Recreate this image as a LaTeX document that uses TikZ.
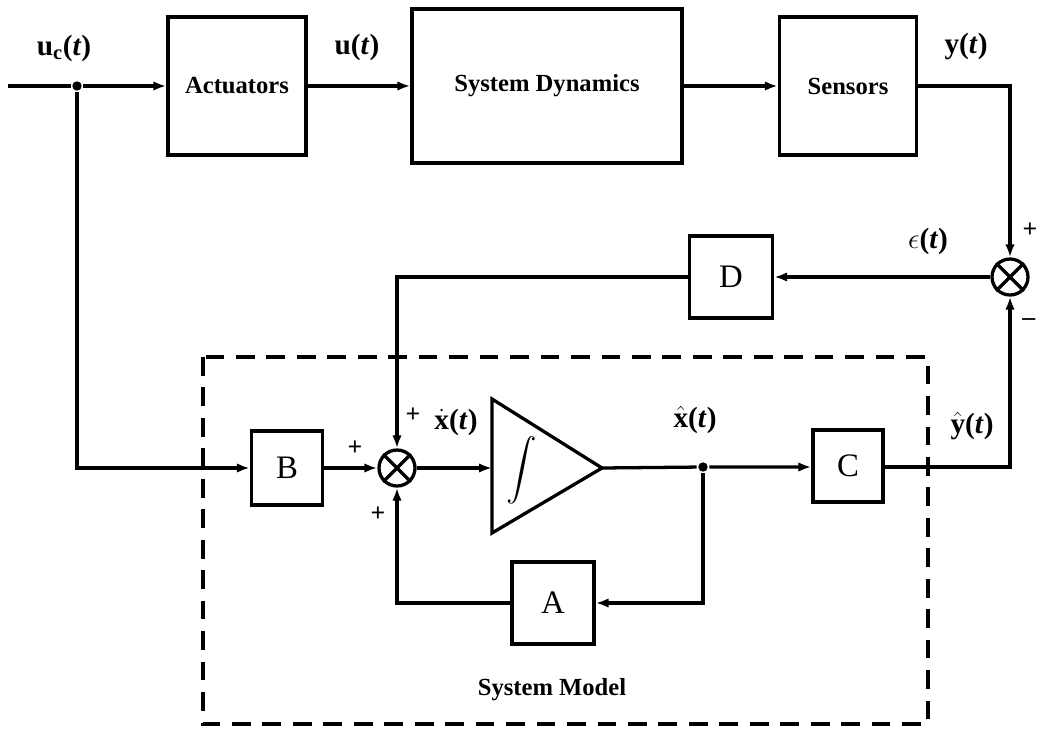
\documentclass[tikz,border=0pt]{standalone}
\usepackage{fontspec}
\usepackage{graphicx}
\setmainfont{Liberation Serif}
\usetikzlibrary{arrows.meta}
\begin{document}
\begin{tikzpicture}[x=0.03cm,y=-0.03cm, line width=2.8pt,
  blk/.style={draw, line width=2.8pt, inner sep=0pt, font=\fontsize{21}{25}\selectfont\bfseries},
  mblk/.style={draw, line width=2.8pt, inner sep=0pt, font=\fontsize{28}{32}\selectfont},
  sumj/.style={draw, circle, line width=2.8pt, minimum size=1.08cm, inner sep=0pt},
  sig/.style={-{Latex[length=11pt,width=8pt]}},
  lbl/.style={font=\fontsize{25}{29}\selectfont\bfseries, inner sep=1pt},
  sgn/.style={font=\fontsize{22}{24}\selectfont\bfseries, inner sep=0pt},
  jdot/.style={circle, fill, inner sep=0pt, minimum size=8pt}]
\useasboundingbox (0,0) rectangle (1039,735);

% blocks
\node[blk, minimum width=4.14cm, minimum height=4.14cm] (act) at (237,86) {Actuators};
\node[blk, minimum width=8.1cm, minimum height=4.62cm] (dyn) at (547,86) {System Dynamics};
\node[blk, minimum width=4.11cm, minimum height=4.14cm] (sens) at (848,86) {Sensors};
\node[mblk, minimum width=2.49cm, minimum height=2.46cm] (D) at (731,277) {D};
\node[mblk, minimum width=2.13cm, minimum height=2.22cm] (B) at (287,468) {B};
\node[mblk, minimum width=2.1cm, minimum height=2.16cm] (C) at (848,466) {C};
\node[mblk, minimum width=2.46cm, minimum height=2.46cm] (A) at (553,603) {A};
\node[sumj] (s1) at (397,468) {};
\node[sumj] (s2) at (1010,277) {};
\draw (s1.45) -- (s1.225) (s1.135) -- (s1.315);
\draw (s2.45) -- (s2.225) (s2.135) -- (s2.315);

% integrator
\coordinate (intin) at (492,468);
\coordinate (intout) at (602,468);
\draw[line join=miter] (492,399) -- (intout) -- (492,533) -- cycle;
\node (intsym) at (522,470) {\scalebox{2.6}{$\displaystyle\int$}};

% coordinates and dots
\coordinate (start) at (8,86);
\node[jdot] (d1) at (77,86) {};
\node[jdot] (d2) at (703,467) {};
\coordinate (c1) at (77,468);
\coordinate (c2) at (1010,86);
\coordinate (c3) at (397,277);
\coordinate (c4) at (703,603);
\coordinate (c5) at (397,603);
\coordinate (c6) at (1010,467);

% connectors
\draw (start) -- (d1);
\draw[sig] (d1) -- (act.west);
\draw[sig] (act.east) -- (dyn.west);
\draw[sig] (dyn.east) -- (sens.west);
\draw[sig] (sens.east) -- (c2) -- (s2.north);
\draw[sig] (s2.west) -- (D.east);
\draw[sig] (D.west) -- (c3) -- (s1.north);
\draw[sig] (d1) -- (c1) -- (B.west);
\draw[sig] (B.east) -- (s1.west);
\draw[sig] (s1.east) -- (intin);
\draw[sig] (intout) -- (d2) -- (C.west |- d2);
\draw[sig] (d2) -- (c4) -- (A.east);
\draw[sig] (A.west) -- (c5) -- (s1.south);
\draw[sig] (C.east |- c6) -- (c6) -- (s2.south);

% dashed system model box
\draw[dash pattern=on 16pt off 10pt] (203,357) rectangle (928,724);
\node[font=\fontsize{21}{25}\selectfont\bfseries] (sm) at (552,690) {System Model};

% labels
\node[lbl] (luc) at (64,48) {u\textsubscript{c}(\textit{t})};
\node[lbl] (lu) at (357,47) {u(\textit{t})};
\node[lbl] (ly) at (966,47) {y(\textit{t})};
\node[lbl] (le) at (928,241) {$\epsilon$(\textit{t})};
\node[lbl] (lxd) at (456,422) {$\dot{\mathbf{x}}$(\textit{t})};
\node[lbl] (lxh) at (695,420) {$\hat{\mathbf{x}}$(\textit{t})};
\node[lbl] (lyh) at (972,426) {$\hat{\mathbf{y}}$(\textit{t})};
\node[sgn] (p1) at (1030,230) {+};
\node[sgn] (m1) at (1029,322) {\textbf{--}};
\node[sgn] (p2) at (413,415) {+};
\node[sgn] (p3) at (355,448) {+};
\node[sgn] (p4) at (378,514) {+};
\end{tikzpicture}
\end{document}
